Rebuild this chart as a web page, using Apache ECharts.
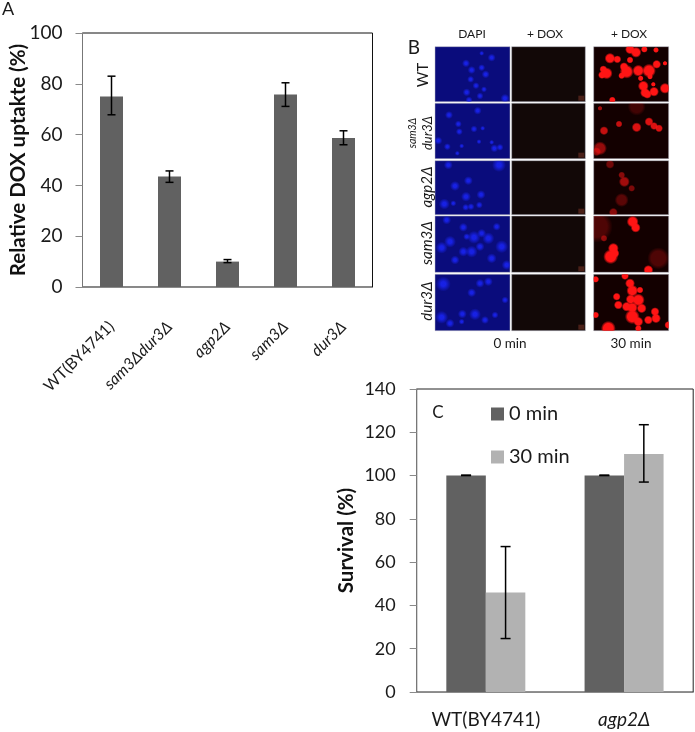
<!DOCTYPE html>
<html>
<head>
<meta charset="utf-8">
<style>
  html, body { margin: 0; padding: 0; background: #fff; }
  #main { width: 695px; height: 732px; }
</style>
</head>
<body>
<div id="main"></div>
<script src="https://cdn.jsdelivr.net/npm/echarts@6/dist/echarts.min.js"></script>
<script>
var FONT = "Lato";

// panel A
var strains = ["WT(BY4741)", "sam3Δdur3Δ", "agp2Δ", "sam3Δ", "dur3Δ"];
var uptake = [75, 43.5, 10, 75.8, 58.7];
var uptakeHigh = [83, 45.7, 10.8, 80.4, 61.5];
var uptakeLow = [67.8, 41.2, 9.6, 71.1, 56];

// panel C
var survivalGroups = ["WT(BY4741)", "agp2Δ"];
var survival0 = [100, 100];
var survival0High = [100.2, 100.2];
var survival30 = [46, 110];
var survival30High = [67.2, 123.5];
var survival30Low = [24.7, 97];

// panel B: micrographs, in a 885x1020 image space
var cellColumns = [[105, 330], [335, 556], [581, 806]];
var cellRows = [[80, 245], [250, 416], [422, 584], [588, 757], [763, 932]];
var dapiSpots = [
  [198,130,8],[215,150,8],[245,143,7],[275,113,8],[257,163,8],[212,178,7],[228,197,7],[252,208,6],[200,217,8],[240,228,7],[207,240,7],[315,235,9],[245,100,5],
  [147,285,8],[233,272,8],[175,312,7],[222,327,7],[248,325,5],[178,335,7],[115,362,8],[142,380,7],[185,378,5],[237,365,5],[283,385,8],[300,382,7],[275,367,5],[172,400,5],
  [297,435,14],[145,435,9],[205,482,9],[165,498,10],[198,530,10],[243,524,9],[133,552,11],[197,562,7],[213,560,7],[238,555,7],[160,550,6],
  [140,600,9],[190,622,9],[222,652,13],[150,665,12],[245,640,9],[265,655,12],[190,695,10],[215,695,12],[240,680,9],[305,680,13],[125,683,12],[275,715,10],[320,735,10],[165,720,9],[200,650,7],[290,620,8],
  [130,792,15],[240,790,9],[265,785,9],[215,818,9],[315,840,7],[125,892,13],[150,910,9],[187,882,9],[225,883,12],[255,900,8],[285,885,7],[185,905,6]
];
var redSpots = [
  [690,88,10,1],[708,97,11,1],[733,88,7,1],[768,90,6,1],[630,115,11,1],[652,118,8,1],[690,120,7,1],[610,148,8,1],[620,160,12,1],[606,165,8,1],[672,140,9,1],[680,155,14,1],[665,167,7,1],[715,152,12,1],[747,152,14,1],[795,130,5,1],[770,133,9,1],[750,170,6,1],[730,198,11,1],[760,193,5,1],[795,205,11,1],[735,218,10,1],[762,215,10,1],[742,223,9,1],[637,240,7,1],[722,175,6,1],
  [600,265,5,.6],[612,332,9,.75],[657,312,7,.75],[710,322,10,.85],[747,305,9,.85],[762,318,8,.85],[777,325,8,.85],[600,385,14,.55],[590,395,9,.5],[710,260,18,.2],
  [630,433,9,.4],[665,465,7,.5],[673,485,11,.6],[695,505,7,.45],[665,540,14,.3],[640,577,9,.5],
  [698,605,12,1],[707,623,10,1],[640,685,11,1],[645,700,9,1],[632,710,15,1],[612,655,7,.5],[775,715,22,.25],[745,750,10,1],[590,620,32,.25],
  [587,778,7,1],[675,768,8,1],[690,790,10,1],[697,812,12,1],[720,810,7,1],[650,830,8,1],[692,838,10,1],[715,840,13,1],[680,860,10,1],[655,855,9,1],[697,863,11,1],[725,865,10,1],[697,890,15,1],[765,875,9,1],[745,900,9,1],[768,895,10,1],[715,905,10,1],[625,925,15,1],[587,885,7,1],[805,915,8,1],[715,925,7,1]
];

// one row per micrograph: [x0, y0, x1, y1, colour]
var cellFills = ["#0a0c7c", "#120807", "#130000"];
var cells = [];
cellColumns.forEach(function (c, ci) {
  cellRows.forEach(function (r) {
    cells.push([c[0], r[0], c[1], r[1], cellFills[ci]]);
  });
});

function cellRectOf(x, y) {
  for (var i = 0; i < cells.length; i++) {
    var c = cells[i];
    if (x >= c[0] && x <= c[2] && y >= c[1] && y <= c[3]) return c;
  }
  return cells[0];
}

function renderCell(params, api) {
  var p0 = api.coord([api.value(0), api.value(1)]);
  var p1 = api.coord([api.value(2), api.value(3)]);
  var fill = cells[params.dataIndex][4];
  var kids = [{
    type: "rect",
    shape: { x: p0[0], y: p0[1], width: p1[0] - p0[0], height: p1[1] - p0[1] },
    style: { fill: fill, stroke: "#b9b9c4", lineWidth: 0.5 }
  }];
  // the little scale mark in the bottom corner of the 0 min DOX frames
  if (fill === cellFills[1]) {
    kids.push({
      type: "rect",
      shape: { x: p1[0] - 7, y: p1[1] - 6, width: 6, height: 5 },
      style: { fill: "#4a2018" }
    });
  }
  return { type: "group", children: kids };
}

function spotRenderer(rgb, spread, core) {
  return function (params, api) {
    var x = api.value(0), y = api.value(1);
    var p = api.coord([x, y]);
    var r = api.value(2) / 3 * spread;
    var a = api.value(3);
    var c = cellRectOf(x, y);
    var c0 = api.coord([c[0], c[1]]);
    var c1 = api.coord([c[2], c[3]]);
    return {
      type: "circle",
      shape: { cx: p[0], cy: p[1], r: r },
      style: {
        fill: new echarts.graphic.RadialGradient(0.5, 0.5, 0.5, [
          { offset: 0, color: "rgba(" + rgb + "," + a + ")" },
          { offset: core, color: "rgba(" + rgb + "," + a + ")" },
          { offset: 1, color: "rgba(" + rgb + ",0)" }
        ])
      },
      clipPath: {
        type: "rect",
        shape: {
          x: c0[0], y: c0[1],
          width: c1[0] - c0[0], height: c1[1] - c0[1]
        }
      }
    };
  };
}

// whisker: x index, low, high, side offset in px
function whisker(offsetPx, capPx) {
  return function (params, api) {
    var hi = api.coord([api.value(0), api.value(2)]);
    var lo = api.coord([api.value(0), api.value(1)]);
    var x = hi[0] + offsetPx;
    var st = { stroke: "#000", lineWidth: 1.5 };
    return {
      type: "group",
      children: [
        { type: "line", shape: { x1: x, y1: hi[1], x2: x, y2: lo[1] }, style: st },
        { type: "line", shape: { x1: x - capPx, y1: hi[1], x2: x + capPx, y2: hi[1] }, style: st },
        { type: "line", shape: { x1: x - capPx, y1: lo[1], x2: x + capPx, y2: lo[1] }, style: st }
      ]
    };
  };
}

function zip() {
  var arrs = Array.prototype.slice.call(arguments);
  return arrs[0].map(function (_, i) {
    return arrs.map(function (a) { return a[i]; });
  });
}

var italicRich = {
  n: { fontFamily: FONT, fontSize: 19, color: "#1a1a1a" },
  i: { fontFamily: FONT, fontSize: 19, fontStyle: "italic", color: "#1a1a1a" }
};

var sideTexts = [
  ["A", 8, 9, 18, 0, "normal"],
  ["B", 414, 48, 19, 0, "normal"],
  ["C", 438, 413, 17, 0, "normal"],
  ["DAPI", 472, 34, 12, 0, "normal"],
  ["+ DOX", 545, 34, 12, 0, "normal"],
  ["+ DOX", 629, 34, 12, 0, "normal"],
  ["0 min", 510, 344, 13.5, 0, "normal"],
  ["30 min", 631, 344, 13.5, 0, "normal"],
  ["WT", 423, 75, 15, 90, "normal"],
  ["sam3Δ", 413, 133, 10.5, 90, "italic"],
  ["dur3Δ", 428, 133, 13, 90, "italic"],
  ["agp2Δ", 427, 187, 15, 90, "italic"],
  ["sam3Δ", 427, 243, 15, 90, "italic"],
  ["dur3Δ", 427, 301, 15, 90, "italic"]
];

var option = {
  backgroundColor: "#fff",
  animation: false,
  textStyle: { fontFamily: FONT },
  legend: {
    left: 486,
    top: 399,
    orient: "vertical",
    icon: "rect",
    itemWidth: 13,
    itemHeight: 13,
    itemGap: 23,
    data: ["0 min", "30 min"],
    textStyle: { fontFamily: FONT, fontSize: 20, color: "#1a1a1a", padding: [0, 0, 0, 0] }
  },
  grid: [
    { left: 82.5, top: 33, width: 290, height: 254, show: true, borderColor: "#111", borderWidth: 1, backgroundColor: "#fff" },
    { left: 416.7, top: 389, width: 276.5, height: 303, show: true, borderColor: "#222", borderWidth: 1, backgroundColor: "#fff" },
    { left: 400, top: 20, width: 295, height: 340 }
  ],
  xAxis: [
    {
      gridIndex: 0,
      type: "category",
      data: strains,
      axisLine: { lineStyle: { color: "#8a8a8a", width: 1.2 } },
      axisTick: { show: false },
      axisLabel: {
        rotate: 45,
        margin: 37,
        fontFamily: FONT,
        fontSize: 16,
        color: "#1a1a1a",
        formatter: function (v, i) {
          return i === 0 ? "{n|" + v + "}" : "{i|" + v + "}";
        },
        rich: {
          n: { fontFamily: FONT, fontSize: 16, color: "#1a1a1a" },
          i: { fontFamily: FONT, fontSize: 16, fontStyle: "italic", color: "#1a1a1a" }
        }
      }
    },
    {
      gridIndex: 1,
      type: "category",
      data: survivalGroups,
      axisLine: { lineStyle: { color: "#8a8a8a", width: 1.2 } },
      axisTick: { length: 6, lineStyle: { color: "#8a8a8a" } },
      axisLabel: {
        margin: 18,
        formatter: function (v, i) {
          return i === 0 ? "{n|" + v + "}" : "{i|" + v + "}";
        },
        rich: italicRich
      }
    },
    { gridIndex: 2, type: "value", min: 0, max: 885, show: false }
  ],
  yAxis: [
    {
      gridIndex: 0,
      type: "value",
      min: 0,
      max: 100,
      interval: 20,
      name: "Relative DOX uptakte (%)",
      nameLocation: "middle",
      nameGap: 54,
      nameMoveOverlap: false,
      nameTextStyle: { fontFamily: FONT, fontSize: 20.5, fontWeight: "bold", color: "#111" },
      axisLine: { show: true, lineStyle: { color: "#777", width: 1 } },
      axisTick: { show: true, length: 7, lineStyle: { color: "#8a8a8a" } },
      axisLabel: { fontFamily: FONT, fontSize: 19, color: "#1a1a1a", margin: 20 },
      splitLine: { show: false }
    },
    {
      gridIndex: 1,
      type: "value",
      min: 0,
      max: 140,
      interval: 20,
      name: "Survival (%)",
      nameLocation: "middle",
      nameGap: 60,
      nameMoveOverlap: false,
      nameTextStyle: { fontFamily: FONT, fontSize: 20.5, fontWeight: "bold", color: "#111" },
      axisLine: { show: true, lineStyle: { color: "#777", width: 1 } },
      axisTick: { show: true, length: 7, lineStyle: { color: "#8a8a8a" } },
      axisLabel: { fontFamily: FONT, fontSize: 18, color: "#1a1a1a", margin: 21 },
      splitLine: { show: false }
    },
    { gridIndex: 2, type: "value", min: 0, max: 1020, inverse: true, show: false }
  ],
  series: [
    {
      name: "uptake",
      type: "bar",
      xAxisIndex: 0,
      yAxisIndex: 0,
      barWidth: 23,
      data: uptake,
      itemStyle: { color: "#616161" }
    },
    {
      name: "uptakeErr",
      type: "custom",
      xAxisIndex: 0,
      yAxisIndex: 0,
      z: 5,
      data: zip(strains.map(function (_, i) { return i; }), uptakeLow, uptakeHigh),
      encode: { x: 0, y: [1, 2] },
      renderItem: whisker(0, 4)
    },
    {
      name: "0 min",
      type: "bar",
      xAxisIndex: 1,
      yAxisIndex: 1,
      barWidth: 39.5,
      barGap: 0,
      data: survival0,
      itemStyle: { color: "#616161" }
    },
    {
      name: "30 min",
      type: "bar",
      xAxisIndex: 1,
      yAxisIndex: 1,
      barWidth: 39.5,
      barGap: 0,
      data: survival30,
      itemStyle: { color: "#b2b2b2" }
    },
    {
      name: "survival0Err",
      type: "custom",
      xAxisIndex: 1,
      yAxisIndex: 1,
      z: 5,
      data: zip([0, 1], survival0, survival0High),
      encode: { x: 0, y: [1, 2] },
      renderItem: whisker(-19.75, 5)
    },
    {
      name: "survival30Err",
      type: "custom",
      xAxisIndex: 1,
      yAxisIndex: 1,
      z: 5,
      data: zip([0, 1], survival30Low, survival30High),
      encode: { x: 0, y: [1, 2] },
      renderItem: whisker(19.75, 5)
    },
    {
      name: "cells",
      type: "custom",
      xAxisIndex: 2,
      yAxisIndex: 2,
      clip: false,
      z: 1,
      data: cells.map(function (c) { return c.slice(0, 4); }),
      encode: { x: [0, 2], y: [1, 3] },
      renderItem: renderCell
    },
    {
      name: "dapi",
      type: "custom",
      xAxisIndex: 2,
      yAxisIndex: 2,
      z: 2,
      data: dapiSpots.map(function (s) { return [s[0], s[1], s[2], 0.9]; }),
      encode: { x: 0, y: 1 },
      renderItem: spotRenderer("25,35,240", 1.5, 0.3)
    },
    {
      name: "dox",
      type: "custom",
      xAxisIndex: 2,
      yAxisIndex: 2,
      z: 2,
      data: redSpots,
      encode: { x: 0, y: 1 },
      renderItem: spotRenderer("255,20,20", 1.5, 0.65)
    }
  ],
  graphic: sideTexts.map(function (t) {
    return {
      type: "text",
      x: t[1],
      y: t[2],
      rotation: t[4] * Math.PI / 180,
      z: 20,
      style: {
        text: t[0],
        fontFamily: FONT,
        fontSize: t[3],
        fontStyle: t[5],
        fill: "#1a1a1a",
        align: "center",
        verticalAlign: "middle"
      }
    };
  })
};

var myChart = echarts.init(document.getElementById("main"), null, { renderer: "canvas" });
myChart.setOption(option);
</script>
</body>
</html>
